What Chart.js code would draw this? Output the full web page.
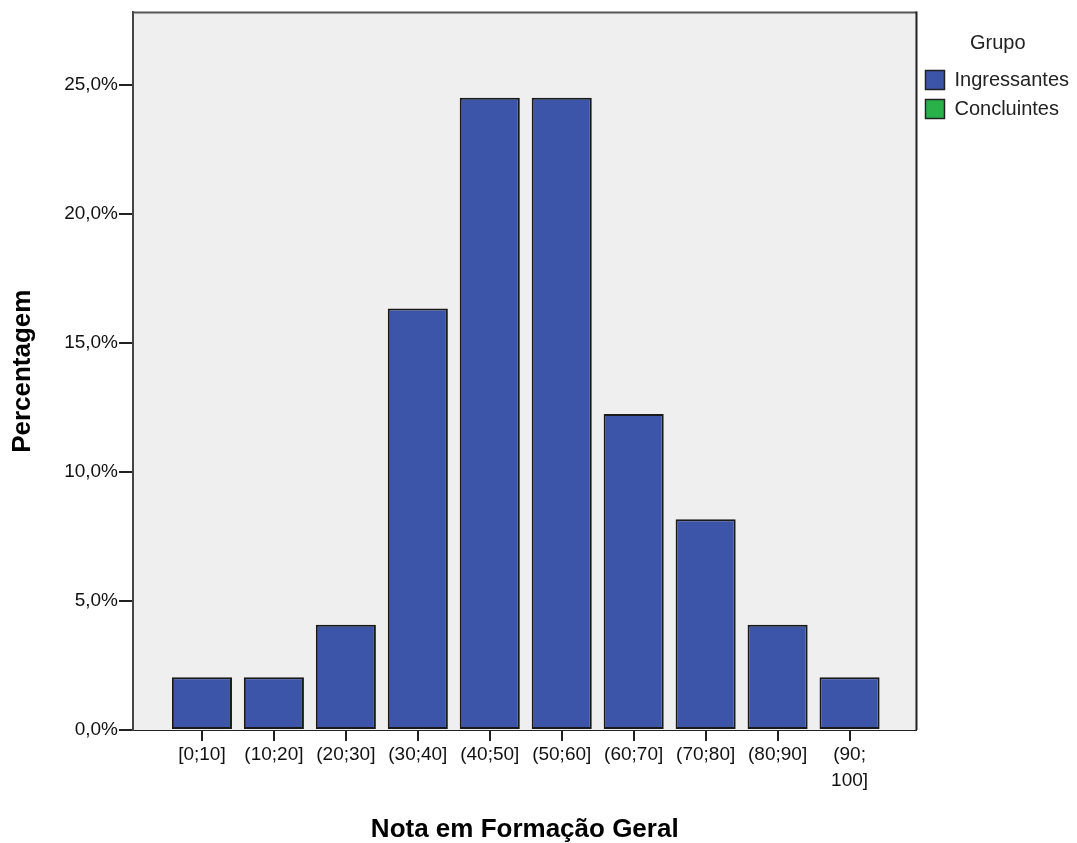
<!DOCTYPE html>
<html>
<head>
<meta charset="utf-8">
<script src="https://cdn.jsdelivr.net/npm/chart.js@4"></script>
<style>
html,body{margin:0;padding:0;background:#fff;}
#wrap{width:1077px;height:843px;position:relative;}
</style>
</head>
<body>
<div id="wrap"><canvas id="c" width="1077" height="843"></canvas></div>
<script>
const categories = ['[0;10]', '(10;20]', '(20;30]', '(30;40]', '(40;50]', '(50;60]', '(60;70]', '(70;80]', '(80;90]', ['(90;', '100]']];
const ingressantes = [2.04, 2.04, 4.08, 16.33, 24.49, 24.49, 12.24, 8.16, 4.08, 2.04];
const concluintes = [];
const yTicks = [0, 5, 10, 15, 20, 25];
const seriesNames = ['Ingressantes', 'Concluintes'];

const FONT = 'Liberation Sans, Arial, sans-serif';

const plotFrame = {
  id: 'plotFrame',
  beforeDraw(chart) {
    const {ctx, chartArea: a} = chart;
    ctx.save();
    ctx.fillStyle = '#efefef';
    ctx.fillRect(a.left, a.top, a.right - a.left, a.bottom - a.top);
    ctx.restore();
  },
  afterDraw(chart) {
    const {ctx, chartArea: a} = chart;
    ctx.save();
    ctx.strokeStyle = '#555';
    ctx.lineWidth = 2;
    ctx.beginPath();
    ctx.moveTo(a.left, a.top);
    ctx.lineTo(a.right, a.top);
    ctx.stroke();
    ctx.strokeStyle = '#222';
    ctx.beginPath();
    ctx.moveTo(a.right, a.top - 1);
    ctx.lineTo(a.right, a.bottom);
    ctx.stroke();
    ctx.restore();
  }
};

new Chart(document.getElementById('c'), {
  type: 'bar',
  data: {
    datasets: [
      {
        label: seriesNames[0],
        data: ingressantes.map((v, i) => ({x: i, y: v})),
        backgroundColor: '#3c55a8',
        borderColor: '#1a1a1a',
        borderWidth: 2,
        borderSkipped: false,
        grouped: false,
        categoryPercentage: 1,
        barPercentage: 0.835
      },
      {
        label: seriesNames[1],
        data: concluintes.map((v, i) => ({x: i, y: v})),
        backgroundColor: '#2ab24a',
        borderColor: '#1a1a1a',
        borderWidth: 2,
        grouped: false
      }
    ]
  },
  options: {
    responsive: false,
    animation: false,
    layout: {padding: {top: 12, left: 0, right: -2, bottom: 0}},
    plugins: {
      tooltip: {enabled: false},
      legend: {
        position: 'right',
        align: 'start',
        title: {display: true, text: 'Grupo', color: '#222', font: {family: FONT, size: 20}, padding: {top: 21, bottom: 4}},
        labels: {
          boxWidth: 19, boxHeight: 19, color: '#111',
          font: {family: FONT, size: 20},
          padding: 9,
          generateLabels(chart) {
            return chart.data.datasets.map((d, i) => ({
              text: d.label, fillStyle: d.backgroundColor, strokeStyle: '#222', lineWidth: 1.5, datasetIndex: i, hidden: false
            }));
          }
        }
      }
    },
    scales: {
      x: {
        type: 'linear',
        min: -0.958,
        max: 9.93,
        offset: false,
        afterBuildTicks(axis) { axis.ticks = categories.map((c, i) => ({value: i})); },
        afterFit(axis) { axis.height = 113; },
        ticks: {
          autoSkip: false, maxRotation: 0, color: '#111',
          font: {family: FONT, size: 19, lineHeight: 1.35},
          padding: 1,
          callback: (v) => categories[v]
        },
        grid: {display: true, offset: false, drawOnChartArea: false, drawTicks: true, tickLength: 11, color: '#222', lineWidth: 2},
        border: {display: true, color: '#222', width: 1},
        title: {display: true, text: 'Nota em Formação Geral', color: '#000', font: {family: FONT, size: 26, weight: 'bold'}, padding: {top: 0, bottom: -2}}
      },
      y: {
        min: 0,
        max: 27.8,
        afterBuildTicks(axis) { axis.ticks = yTicks.map(v => ({value: v})); },
        afterFit(axis) { axis.width = 133; },
        ticks: {
          color: '#111', font: {family: FONT, size: 19}, padding: 1,
          callback: (v) => v.toFixed(1).replace('.', ',') + '%'
        },
        grid: {display: true, drawOnChartArea: false, drawTicks: true, tickLength: 14, color: '#222', lineWidth: 2},
        border: {display: true, color: '#444', width: 2},
        title: {display: true, text: 'Percentagem', color: '#000', font: {family: FONT, size: 26, weight: 'bold'}, padding: {top: 7, bottom: 0}}
      }
    }
  },
  plugins: [plotFrame]
});
</script>
</body>
</html>
